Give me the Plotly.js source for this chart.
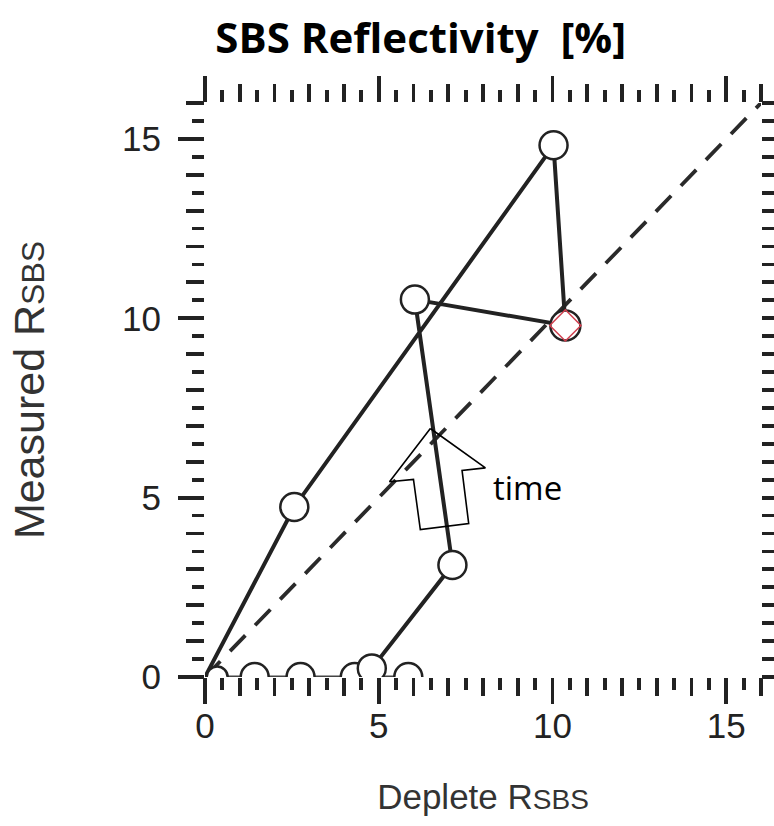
<!DOCTYPE html>
<html>
<head>
<meta charset="utf-8">
<script src="https://cdn.plot.ly/plotly-3.0.1.min.js"></script>
<style>html,body{margin:0;padding:0;background:#fff;}#chart{width:774px;height:826px;}</style>
</head>
<body>
<div id="chart"></div>
<script>
// Main path (Depleted vs Measured SBS reflectivity, in time order)
const pathX = [0, 2.57, 10.03, 10.37, 6.04, 7.12, 4.80];
const pathY = [0, 4.74, 14.82, 9.80, 10.52, 3.12, 0.24];
// Points sitting on the zero line
const zeroX = [1.43, 2.75, 4.31, 5.85];
const zeroY = [0, 0, 0, 0];
const originX = [0.35];
const originY = [0];
// Highlighted point
const hiX = [10.37];
const hiY = [9.80];
// Reference line Measured = Deplete
const refX = [0, 16];
const refY = [0, 16];
// Time arrow outline (annotation)
const arrowX = [6.485, 8.069, 7.397, 7.588, 6.196, 5.999, 5.310, 6.485];
const arrowY = [6.927, 5.830, 5.760, 4.280, 4.110, 5.507, 5.441, 6.927];
const tickVals = [0, 5, 10, 15];
const tickText = ['0', '5', '10', '15'];

const ink = '#222';
const traces = [
  {x: refX, y: refY, mode: 'lines', line: {color: '#2a2a2a', width: 3.8, dash: '22px,14px'}, hoverinfo: 'skip', showlegend: false},
  {x: [0].concat(zeroX), y: [0].concat(zeroY), mode: 'lines', line: {color: '#444', width: 3}, hoverinfo: 'skip', showlegend: false},
  {x: pathX, y: pathY, mode: 'lines', line: {color: ink, width: 4}, showlegend: false},
  {x: arrowX, y: arrowY, mode: 'lines', line: {color: '#000', width: 1.6}, hoverinfo: 'skip', showlegend: false},
  {x: originX, y: originY, mode: 'markers', marker: {symbol: 'circle', size: 21, color: '#fff', line: {color: ink, width: 2.5}}, showlegend: false},
  {x: zeroX, y: zeroY, mode: 'markers', marker: {symbol: 'circle', size: 28, color: '#fff', line: {color: ink, width: 2.5}}, showlegend: false},
  {x: pathX.slice(1, 3).concat(pathX.slice(4)), y: pathY.slice(1, 3).concat(pathY.slice(4)), mode: 'markers', marker: {symbol: 'circle', size: 28, color: '#fff', line: {color: ink, width: 2.5}}, showlegend: false},
  {x: hiX, y: hiY, mode: 'markers', marker: {symbol: 'circle', size: 30, color: '#fff', line: {color: ink, width: 2.5}}, showlegend: false},
  {x: hiX, y: hiY, mode: 'markers', marker: {symbol: 'diamond-open', size: 24, color: '#d0404f', line: {color: '#d0404f', width: 1.5}}, showlegend: false},
  {x: [], y: [], xaxis: 'x2', yaxis: 'y2', mode: 'markers', hoverinfo: 'skip', showlegend: false}
];

const axisFont = {family: 'Liberation Sans, Arial, sans-serif', size: 35, color: ink};
const common = {
  range: [0, 16], showgrid: false, zeroline: false, showline: false,
  ticks: 'outside', ticklen: 26, tickwidth: 3.8, tickcolor: ink, mirror: 'ticks',
  tickmode: 'array', tickvals: tickVals, ticktext: tickText, tickfont: axisFont,
  minor: {ticks: 'outside', dtick: 0.5, tick0: 0, ticklen: 12, tickwidth: 3.8, tickcolor: ink, showgrid: false}
};
const mid = {
  range: [0, 16], showgrid: false, zeroline: false, showline: false,
  ticks: 'outside', ticklen: 18, tickwidth: 3.8, tickcolor: ink, mirror: 'ticks',
  tickmode: 'linear', tick0: 0, dtick: 1, showticklabels: false
};

const layout = {
  width: 774, height: 826,
  margin: {l: 205, r: 13, t: 103, b: 149},
  paper_bgcolor: '#fff', plot_bgcolor: '#fff',
  title: {text: '<b>SBS Reflectivity&nbsp;&nbsp;[%]</b>', font: {family: 'Open Sans, sans-serif', size: 42, color: '#000'},
          x: 0.388, xref: 'paper', xanchor: 'center', y: 0.954, yanchor: 'middle'},
  xaxis: Object.assign({}, common, {
    ticklabelstandoff: -8,
    title: {text: 'Deplete R<span style="font-size:28px">SBS</span>', font: {family: 'Liberation Sans, Arial, sans-serif', size: 35, color: '#333'}, standoff: 40}
  }),
  yaxis: Object.assign({}, common, {
    ticklabelstandoff: 10,
    title: {text: 'Measured R<span style="font-size:32px">SBS</span>', font: {family: 'Liberation Sans, Arial, sans-serif', size: 43, color: '#333'}, standoff: 64}
  }),
  xaxis2: Object.assign({}, mid, {overlaying: 'x', anchor: 'y2'}),
  yaxis2: Object.assign({}, mid, {overlaying: 'y', anchor: 'x2'}),
  annotations: [
    {x: 8.22, y: 5.29, xref: 'x', yref: 'y', text: 'time', showarrow: false, xanchor: 'left', yanchor: 'middle',
     font: {family: 'Open Sans, sans-serif', size: 33, color: '#000'}}
  ],
  showlegend: false
};

Plotly.newPlot('chart', traces, layout, {displayModeBar: false, staticPlot: true});
</script>
</body>
</html>
